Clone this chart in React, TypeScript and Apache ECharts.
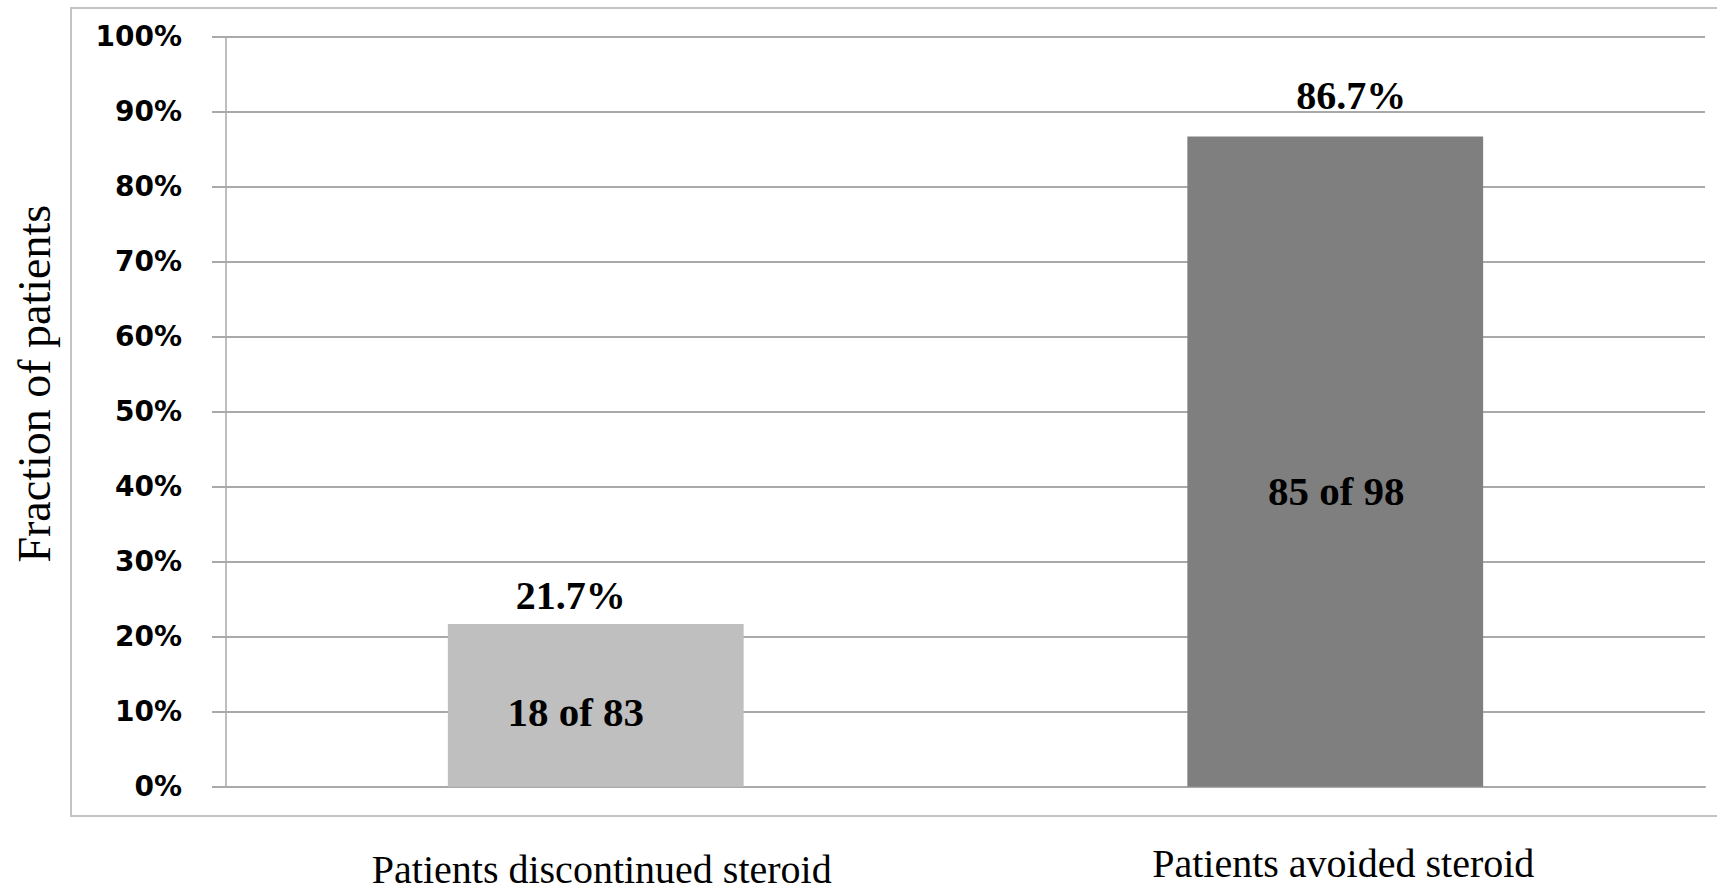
import React, { useEffect, useRef } from "react";
import * as echarts from "echarts";

const categories = ["Patients discontinued steroid", "Patients avoided steroid"];
const percentages = [21.7, 86.7];
const numerators = [18, 85];
const denominators = [83, 98];
const barColors = ["#bfbfbf", "#7f7f7f"];
const yTicks = [0, 10, 20, 30, 40, 50, 60, 70, 80, 90, 100];

export default function App() {
  const ref = useRef<HTMLDivElement>(null);
  useEffect(() => {
    if (!ref.current) return;
    const chart = echarts.init(ref.current, undefined, { renderer: "svg" });
    const topOffsets = [[-25, 0], [16, 0]];
    const topDistances = [8, 21];
    const inOffsets = [[-20, 7], [1, 29]];
    const catStyles = ["c0", "c1"];
    const option: any = {
      animation: false,
      backgroundColor: "#ffffff",
      grid: {
        left: 226,
        right: 12,
        top: 36.7,
        bottom: 108.3,
        containLabel: false,
        outerBoundsMode: "none",
      },
      graphic: [
        {
          type: "rect",
          shape: { x: 71, y: 8, width: 1700, height: 808 },
          style: { fill: "none", stroke: "#c4c4c4", lineWidth: 2 },
          silent: true,
          z: -1,
        },
      ],
      xAxis: {
        type: "category",
        data: categories,
        axisTick: { show: false },
        axisLine: { show: true, lineStyle: { color: "#a9a9a9", width: 2 } },
        axisLabel: {
          margin: 58,
          fontFamily: "Liberation Serif",
          fontSize: 40,
          color: "#000",
          formatter: (v: string, i: number) => "{" + catStyles[i] + "|" + v + "}",
          rich: {
            c0: {
              fontFamily: "Liberation Serif",
              fontSize: 40,
              lineHeight: 32,
              color: "#000",
              padding: [18, 0, 0, 12],
            },
            c1: {
              fontFamily: "Liberation Serif",
              fontSize: 40,
              lineHeight: 32,
              color: "#000",
              padding: [6, 0, 0, 16],
            },
          },
        },
      },
      yAxis: {
        type: "value",
        min: yTicks[0],
        max: yTicks[yTicks.length - 1],
        interval: yTicks[1] - yTicks[0],
        name: "Fraction of patients",
        nameLocation: "middle",
        nameRotate: 90,
        nameGap: 169,
        nameTextStyle: {
          fontFamily: "Liberation Serif",
          fontSize: 46,
          color: "#000",
          padding: [0, 0, 0, 56],
        },
        axisLine: { show: true, lineStyle: { color: "#a9a9a9", width: 1.5 } },
        axisTick: { show: true, length: 14, lineStyle: { color: "#a9a9a9", width: 2 } },
        splitLine: { show: true, lineStyle: { color: "#a9a9a9", width: 2 } },
        axisLabel: {
          margin: 44,
          formatter: "{value}%",
          fontFamily: "DejaVu Sans",
          fontWeight: "bold",
          fontSize: 28,
          color: "#000",
        },
      },
      series: [
        {
          type: "bar",
          barWidth: "40%",
          data: percentages.map((v, i) => ({
            value: v,
            itemStyle: { color: barColors[i] },
            label: { offset: topOffsets[i], distance: topDistances[i] },
          })),
          label: {
            show: true,
            position: "top",
            formatter: (p: any) => p.value.toFixed(1) + "%",
            fontFamily: "Liberation Serif",
            fontWeight: "bold",
            fontSize: 40,
            color: "#000",
          },
        },
        {
          type: "bar",
          barWidth: "40%",
          barGap: "-100%",
          silent: true,
          data: percentages.map((v, i) => ({
            value: v,
            itemStyle: { color: "transparent" },
            label: { offset: inOffsets[i] },
          })),
          label: {
            show: true,
            position: "inside",
            formatter: (p: any) => numerators[p.dataIndex] + " of " + denominators[p.dataIndex],
            fontFamily: "Liberation Serif",
            fontWeight: "bold",
            fontSize: 41,
            color: "#000",
          },
        },
      ],
    };
    chart.setOption(option);
    return () => chart.dispose();
  }, []);
  return (
    <div
      ref={ref}
      style={{ position: "fixed", left: 0, top: 0, width: 1717, height: 895, background: "#fff" }}
    />
  );
}
